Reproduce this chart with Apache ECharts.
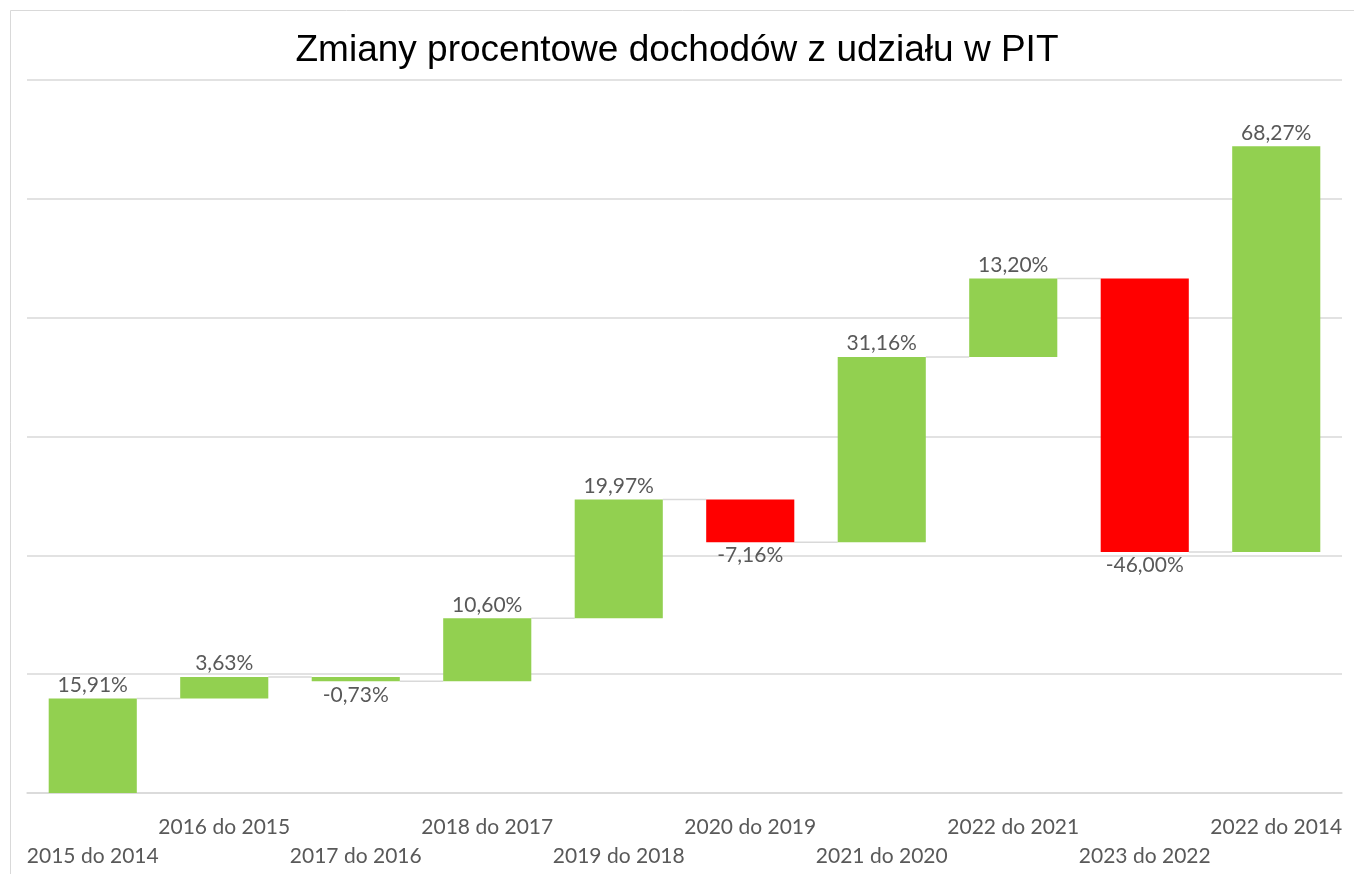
<!DOCTYPE html>
<html>
<head>
<meta charset="utf-8">
<script src="https://cdn.jsdelivr.net/npm/echarts@6/dist/echarts.min.js"></script>
<style>
  html, body { margin: 0; padding: 0; background: #fff; }
  #chart { width: 1354px; height: 874px; }
</style>
</head>
<body>
<div id="chart"></div>
<script>
// okresy porownania
var categories = ['2015 do 2014', '2016 do 2015', '2017 do 2016', '2018 do 2017', '2019 do 2018',
                  '2020 do 2019', '2021 do 2020', '2022 do 2021', '2023 do 2022', '2022 do 2014'];
// zmiany procentowe (kaskada)
var changes = [15.91, 3.63, -0.73, 10.60, 19.97, -7.16, 31.16, 13.20, -46.00, 68.27];
var yTicks = [0, 20, 40, 60, 80, 100, 120];

var GREEN = '#92D050', RED = '#FF0000', GRID = '#d9d9d9';
// kolory slupkow jak w oryginale (-0,73% zostal zielony)
var barColors = [GREEN, GREEN, GREEN, GREEN, GREEN, RED, GREEN, GREEN, RED, GREEN];
var LABEL_FONT = 'Lato, "DejaVu Sans", sans-serif';

var baseArr = [], barArr = [], levelArr = [];
var running = 0;
for (var i = 0; i < changes.length; i++) {
    var start = running;
    running = running + changes[i];
    var neg = changes[i] < 0;
    baseArr.push(Math.min(start, running));
    barArr.push({
        value: Math.abs(changes[i]),
        itemStyle: { color: barColors[i] },
        label: { position: neg ? 'bottom' : 'top', distance: 3 },
        change: changes[i]
    });
    levelArr.push([i, running]);
}

function fmt(v) {
    return v.toFixed(2).replace('.', ',') + '%';
}

var chart = echarts.init(document.getElementById('chart'));
var option = {
    backgroundColor: '#fff',
    animation: false,
    title: {
        text: 'Zmiany procentowe dochodów z udziału w PIT',
        left: 'center',
        top: 27,
        textStyle: { fontFamily: '"Liberation Sans", Arial, sans-serif', fontSize: 37, fontWeight: 'normal', color: '#000' }
    },
    graphic: [{
        type: 'rect',
        shape: { x: 10.5, y: 10.5, width: 1400, height: 900 },
        style: { fill: null, stroke: GRID, lineWidth: 1 },
        silent: true
    }],
    grid: { left: 27, right: 12, top: 80, bottom: 81 },
    xAxis: {
        type: 'category',
        data: categories,
        axisLine: { show: true, lineStyle: { color: GRID, width: 1.5 } },
        axisTick: { show: false },
        axisLabel: {
            interval: 0,
            margin: 20,
            color: '#595959',
            fontFamily: LABEL_FONT,
            fontSize: 21,
            lineHeight: 29,
            formatter: function (v, idx) { return idx % 2 === 0 ? '\n' + v : v; }
        }
    },
    yAxis: {
        type: 'value',
        min: yTicks[0],
        max: yTicks[yTicks.length - 1],
        interval: yTicks[1] - yTicks[0],
        axisLabel: { show: false },
        axisLine: { show: false },
        axisTick: { show: false },
        splitLine: { lineStyle: { color: GRID, width: 1.5 } }
    },
    series: [
        {
            type: 'bar',
            stack: 'w',
            data: baseArr,
            itemStyle: { color: 'transparent' },
            barCategoryGap: '33%',
            silent: true
        },
        {
            type: 'bar',
            stack: 'w',
            data: barArr,
            barCategoryGap: '33%',
            label: {
                show: true,
                color: '#595959',
                fontFamily: LABEL_FONT,
                fontSize: 21,
                formatter: function (p) { return fmt(p.data.change); }
            }
        },
        {
            // linie laczace slupki
            type: 'custom',
            data: levelArr.slice(0, levelArr.length - 1),
            z: 1,
            silent: true,
            renderItem: function (params, api) {
                var idx = api.value(0);
                var p1 = api.coord([idx, api.value(1)]);
                var p2 = api.coord([idx + 1, api.value(1)]);
                var bw = api.size([1, 0])[0] * 0.67;
                return {
                    type: 'line',
                    shape: { x1: p1[0] + bw / 2, y1: p1[1], x2: p2[0] - bw / 2, y2: p2[1] },
                    style: { stroke: GRID, lineWidth: 1.5 }
                };
            }
        }
    ]
};
chart.setOption(option);
</script>
</body>
</html>
